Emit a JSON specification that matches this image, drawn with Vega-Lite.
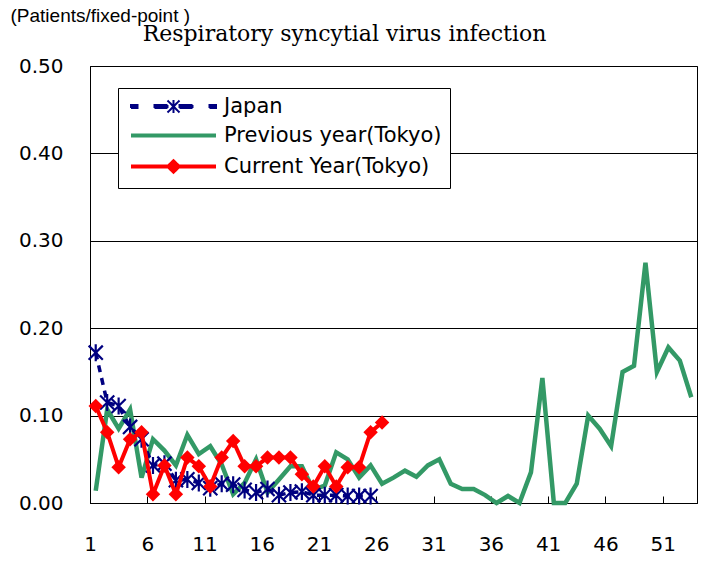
{
  "$schema": "https://vega.github.io/schema/vega-lite/v6.json",
  "width": 607,
  "height": 437,
  "autosize": "none",
  "padding": {"left": 90, "top": 66, "right": 5, "bottom": 85},
  "background": "white",
  "config": {
    "view": {"stroke": "black", "strokeWidth": 1},
    "font": "DejaVu Sans",
    "axis": {"labelFont": "DejaVu Sans", "labelFontSize": 20, "labelColor": "black", "domainColor": "black", "tickColor": "black"}
  },
  "datasets": {
    "rows": [
      {"series": "Japan", "week": 1, "value": 0.172},
      {"series": "Japan", "week": 2, "value": 0.115},
      {"series": "Japan", "week": 3, "value": 0.111},
      {"series": "Japan", "week": 4, "value": 0.087},
      {"series": "Japan", "week": 5, "value": 0.073},
      {"series": "Japan", "week": 6, "value": 0.043},
      {"series": "Japan", "week": 7, "value": 0.045},
      {"series": "Japan", "week": 8, "value": 0.026},
      {"series": "Japan", "week": 9, "value": 0.027},
      {"series": "Japan", "week": 10, "value": 0.023},
      {"series": "Japan", "week": 11, "value": 0.017},
      {"series": "Japan", "week": 12, "value": 0.022},
      {"series": "Japan", "week": 13, "value": 0.021},
      {"series": "Japan", "week": 14, "value": 0.015},
      {"series": "Japan", "week": 15, "value": 0.012},
      {"series": "Japan", "week": 16, "value": 0.016},
      {"series": "Japan", "week": 17, "value": 0.009},
      {"series": "Japan", "week": 18, "value": 0.012},
      {"series": "Japan", "week": 19, "value": 0.013},
      {"series": "Japan", "week": 20, "value": 0.009},
      {"series": "Japan", "week": 21, "value": 0.009},
      {"series": "Japan", "week": 22, "value": 0.009},
      {"series": "Japan", "week": 23, "value": 0.008},
      {"series": "Japan", "week": 24, "value": 0.008},
      {"series": "Japan", "week": 25, "value": 0.008},
      {"series": "Current Year(Tokyo)", "week": 1, "value": 0.111},
      {"series": "Current Year(Tokyo)", "week": 2, "value": 0.081},
      {"series": "Current Year(Tokyo)", "week": 3, "value": 0.041},
      {"series": "Current Year(Tokyo)", "week": 4, "value": 0.073},
      {"series": "Current Year(Tokyo)", "week": 5, "value": 0.081},
      {"series": "Current Year(Tokyo)", "week": 6, "value": 0.01},
      {"series": "Current Year(Tokyo)", "week": 7, "value": 0.043},
      {"series": "Current Year(Tokyo)", "week": 8, "value": 0.01},
      {"series": "Current Year(Tokyo)", "week": 9, "value": 0.052},
      {"series": "Current Year(Tokyo)", "week": 10, "value": 0.042},
      {"series": "Current Year(Tokyo)", "week": 11, "value": 0.019},
      {"series": "Current Year(Tokyo)", "week": 12, "value": 0.052},
      {"series": "Current Year(Tokyo)", "week": 13, "value": 0.071},
      {"series": "Current Year(Tokyo)", "week": 14, "value": 0.042},
      {"series": "Current Year(Tokyo)", "week": 15, "value": 0.042},
      {"series": "Current Year(Tokyo)", "week": 16, "value": 0.052},
      {"series": "Current Year(Tokyo)", "week": 17, "value": 0.052},
      {"series": "Current Year(Tokyo)", "week": 18, "value": 0.052},
      {"series": "Current Year(Tokyo)", "week": 19, "value": 0.033},
      {"series": "Current Year(Tokyo)", "week": 20, "value": 0.019},
      {"series": "Current Year(Tokyo)", "week": 21, "value": 0.042},
      {"series": "Current Year(Tokyo)", "week": 22, "value": 0.019},
      {"series": "Current Year(Tokyo)", "week": 23, "value": 0.041},
      {"series": "Current Year(Tokyo)", "week": 24, "value": 0.041},
      {"series": "Current Year(Tokyo)", "week": 25, "value": 0.081},
      {"series": "Current Year(Tokyo)", "week": 26, "value": 0.092},
      {"series": "Previous year(Tokyo)", "week": 1, "value": 0.014},
      {"series": "Previous year(Tokyo)", "week": 2, "value": 0.107},
      {"series": "Previous year(Tokyo)", "week": 3, "value": 0.085},
      {"series": "Previous year(Tokyo)", "week": 4, "value": 0.107},
      {"series": "Previous year(Tokyo)", "week": 5, "value": 0.029},
      {"series": "Previous year(Tokyo)", "week": 6, "value": 0.073},
      {"series": "Previous year(Tokyo)", "week": 7, "value": 0.06},
      {"series": "Previous year(Tokyo)", "week": 8, "value": 0.043},
      {"series": "Previous year(Tokyo)", "week": 9, "value": 0.078},
      {"series": "Previous year(Tokyo)", "week": 10, "value": 0.056},
      {"series": "Previous year(Tokyo)", "week": 11, "value": 0.065},
      {"series": "Previous year(Tokyo)", "week": 12, "value": 0.044},
      {"series": "Previous year(Tokyo)", "week": 13, "value": 0.01},
      {"series": "Previous year(Tokyo)", "week": 14, "value": 0.023},
      {"series": "Previous year(Tokyo)", "week": 15, "value": 0.05},
      {"series": "Previous year(Tokyo)", "week": 16, "value": 0.012},
      {"series": "Previous year(Tokyo)", "week": 17, "value": 0.027},
      {"series": "Previous year(Tokyo)", "week": 18, "value": 0.042},
      {"series": "Previous year(Tokyo)", "week": 19, "value": 0.042},
      {"series": "Previous year(Tokyo)", "week": 20, "value": 0.015},
      {"series": "Previous year(Tokyo)", "week": 21, "value": 0.02},
      {"series": "Previous year(Tokyo)", "week": 22, "value": 0.058},
      {"series": "Previous year(Tokyo)", "week": 23, "value": 0.05},
      {"series": "Previous year(Tokyo)", "week": 24, "value": 0.029},
      {"series": "Previous year(Tokyo)", "week": 25, "value": 0.043},
      {"series": "Previous year(Tokyo)", "week": 26, "value": 0.022},
      {"series": "Previous year(Tokyo)", "week": 27, "value": 0.029},
      {"series": "Previous year(Tokyo)", "week": 28, "value": 0.037},
      {"series": "Previous year(Tokyo)", "week": 29, "value": 0.03},
      {"series": "Previous year(Tokyo)", "week": 30, "value": 0.043},
      {"series": "Previous year(Tokyo)", "week": 31, "value": 0.05},
      {"series": "Previous year(Tokyo)", "week": 32, "value": 0.022},
      {"series": "Previous year(Tokyo)", "week": 33, "value": 0.016},
      {"series": "Previous year(Tokyo)", "week": 34, "value": 0.016},
      {"series": "Previous year(Tokyo)", "week": 35, "value": 0.009},
      {"series": "Previous year(Tokyo)", "week": 36, "value": 0.0},
      {"series": "Previous year(Tokyo)", "week": 37, "value": 0.008},
      {"series": "Previous year(Tokyo)", "week": 38, "value": 0.0},
      {"series": "Previous year(Tokyo)", "week": 39, "value": 0.035},
      {"series": "Previous year(Tokyo)", "week": 40, "value": 0.143},
      {"series": "Previous year(Tokyo)", "week": 41, "value": 0.0},
      {"series": "Previous year(Tokyo)", "week": 42, "value": 0.0},
      {"series": "Previous year(Tokyo)", "week": 43, "value": 0.022},
      {"series": "Previous year(Tokyo)", "week": 44, "value": 0.1},
      {"series": "Previous year(Tokyo)", "week": 45, "value": 0.085},
      {"series": "Previous year(Tokyo)", "week": 46, "value": 0.065},
      {"series": "Previous year(Tokyo)", "week": 47, "value": 0.15},
      {"series": "Previous year(Tokyo)", "week": 48, "value": 0.157},
      {"series": "Previous year(Tokyo)", "week": 49, "value": 0.275},
      {"series": "Previous year(Tokyo)", "week": 50, "value": 0.15},
      {"series": "Previous year(Tokyo)", "week": 51, "value": 0.178},
      {"series": "Previous year(Tokyo)", "week": 52, "value": 0.163},
      {"series": "Previous year(Tokyo)", "week": 53, "value": 0.121}
    ]
  },
  "data": {"name": "rows"},
  "encoding": {
    "x": {
      "field": "week", "type": "quantitative",
      "scale": {"domain": [0.5, 53.5], "nice": false, "zero": false},
      "axis": {
        "values": [1, 6, 11, 16, 21, 26, 31, 36, 41, 46, 51],
        "grid": false, "tickOffset": -5.73, "tickSize": -7, "labelPadding": 38,
        "labelFlush": false,
        "title": "(Patients/fixed-point )",
        "titleFont": "Liberation Sans", "titleFontSize": 19, "titleFontWeight": "normal", "titleColor": "black",
        "titleAngle": 0, "titleAlign": "left", "titleBaseline": "alphabetic",
        "titleX": -80, "titleY": -482
      }
    },
    "y": {
      "field": "value", "type": "quantitative",
      "scale": {"domain": [0, 0.5], "nice": false},
      "axis": {
        "values": [0, 0.1, 0.2, 0.3, 0.4, 0.5], "format": ".2f",
        "grid": true, "gridColor": "black", "gridWidth": 1, "gridOpacity": 1,
        "ticks": false, "labelPadding": 27,
        "title": "Respiratory syncytial virus infection",
        "titleFont": "DejaVu Serif", "titleFontSize": 22, "titleFontWeight": "normal", "titleColor": "black",
        "titleAngle": 0, "titleAlign": "center", "titleBaseline": "alphabetic",
        "titleX": 254, "titleY": -26
      }
    }
  },
  "layer": [
    {
      "transform": [{"filter": "datum.series === 'Previous year(Tokyo)'"}],
      "mark": {"type": "line", "strokeWidth": 4.5},
      "encoding": {
        "color": {
          "field": "series", "type": "nominal",
          "scale": {"domain": ["Japan", "Previous year(Tokyo)", "Current Year(Tokyo)"], "range": ["#000080", "#339966", "#ff0000"]},
          "legend": {
            "orient": "none", "legendX": 28, "legendY": 22, "title": null, "direction": "vertical",
            "strokeColor": "black", "fillColor": "white", "padding": 8, "cornerRadius": 0,
            "labelFont": "DejaVu Sans", "labelFontSize": 21, "labelColor": "black", "labelLimit": 500,
            "symbolSize": 400, "symbolStrokeWidth": 4, "symbolOffset": 37, "labelOffset": 40, "rowPadding": 7,
            "encoding": {
              "symbols": {
                "shape": {"value": {"expr": "datum.value === 'Japan' ? 'M-4.25,-0.15H-3.6V0.15H-4.25ZM-1.9,-0.15H-0.6V0.15H-1.9ZM0.6,-0.15H1.9V0.15H0.6ZM3.6,-0.15H4.25V0.15H3.6ZM-0.6,-0.6L0.6,0.6M-0.6,0.6L0.6,-0.6M0,-0.65V0.65' : datum.value === 'Current Year(Tokyo)' ? 'M-4.25,0H4.25M0,-0.5L0.5,0L0,0.5L-0.5,0Z' : 'M-4.25,0H4.25'"}},
                "fill": {"value": {"expr": "datum.value === 'Japan' ? '#000080' : datum.value === 'Current Year(Tokyo)' ? '#ff0000' : 'transparent'"}},
                "stroke": {"value": {"expr": "datum.value === 'Japan' ? '#000080' : datum.value === 'Current Year(Tokyo)' ? '#ff0000' : '#339966'"}},
                "strokeWidth": {"value": {"expr": "datum.value === 'Japan' ? 2 : 4"}},
                "strokeDash": {"value": [1, 0]},
                "opacity": {"value": 1}
              }
            }
          }
        }
      }
    },
    {
      "transform": [{"filter": "datum.series === 'Japan'"}],
      "mark": {"type": "line", "strokeWidth": 3.5, "strokeDash": [7, 6]},
      "encoding": {"color": {"field": "series", "type": "nominal"}}
    },
    {
      "transform": [{"filter": "datum.series === 'Japan'"}],
      "mark": {"type": "point", "shape": "M-1,-1L1,1M-1,1L1,-1M0,-1.2V1.2", "filled": false, "stroke": "#000080", "strokeWidth": 2.2, "size": 200, "opacity": 1}
    },
    {
      "transform": [{"filter": "datum.series === 'Current Year(Tokyo)'"}],
      "mark": {"type": "line", "strokeWidth": 4},
      "encoding": {"color": {"field": "series", "type": "nominal"}}
    },
    {
      "transform": [{"filter": "datum.series === 'Current Year(Tokyo)'"}],
      "mark": {"type": "point", "shape": "diamond", "filled": true, "fill": "#ff0000", "size": 210, "opacity": 1}
    }
  ]
}
